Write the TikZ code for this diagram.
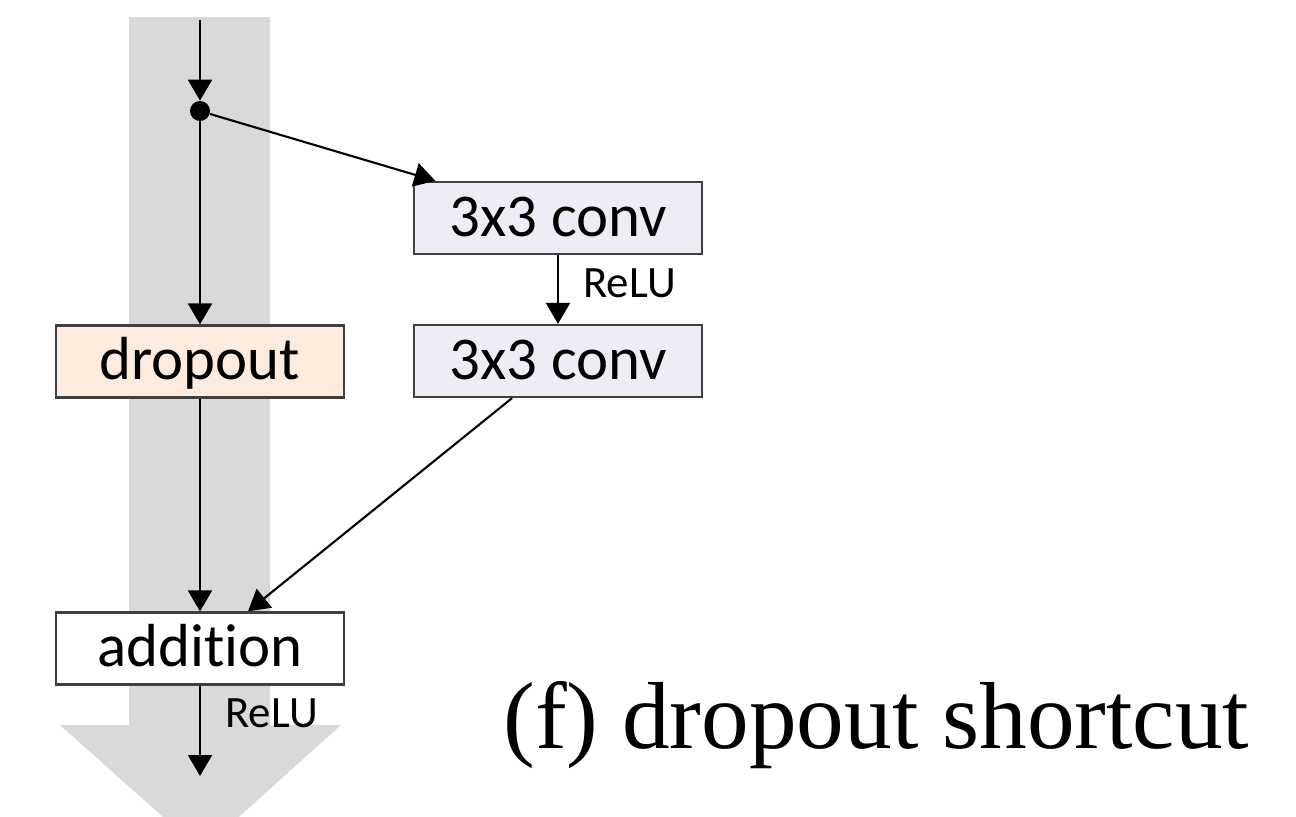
\documentclass[tikz,border=0pt]{standalone}
\usepackage{fontspec}
\setmainfont{Liberation Serif}
\newfontfamily\boxfont[Ligatures=NoCommon]{Carlito}
\usetikzlibrary{arrows.meta,calc}
\definecolor{flowgray}{HTML}{D9D9D9}
\definecolor{convfill}{HTML}{EEECF5}
\definecolor{dropfill}{HTML}{FDEBDD}
\definecolor{edgegray}{HTML}{404040}
\tikzset{
  block/.style={draw=edgegray, line width=1.3pt, minimum width=5.76cm, minimum height=1.44cm,
    inner sep=0pt, text height=0.9cm, text depth=0.18cm,
    font=\boxfont\fontsize{34.6}{40}\selectfont},
  flow/.style={line width=1.2pt, -{Triangle[length=0.42cm,width=0.48cm]}},
  relu/.style={inner sep=0pt, font=\boxfont\fontsize{25.5}{30}\selectfont},
  junction/.style={circle, fill=black, inner sep=0pt, minimum size=0.4cm},
}
\begin{document}
\begin{tikzpicture}[x=0.02cm, y=-0.02cm]
\useasboundingbox (0,0) rectangle (1296,816);
\clip (0,0) rectangle (1296,816);
% wide gray data-flow arrow behind the block
\fill[flowgray] (129,17) -- (270,17) -- (270,725) -- (341,725) -- (201,851)
  -- (60,725) -- (129,725) -- cycle;

% blocks
\node[block, fill=convfill] (conv1) at (558,218) {3x3 conv};
\node[block, fill=convfill] (conv2) at (558,361) {3x3 conv};
\node[block, fill=dropfill] (drop) at (200,361.5) {dropout};
\node[block, fill=white] (add) at (200,648.5) {addition};
\node[junction] (split) at (200,111) {};
\coordinate (in) at (200,20);
\coordinate (out) at (200,776);

% connections
\draw[flow] (in) -- (split);
\draw[flow] (split) -- (drop.north);
\draw[flow] (split) -- ([xshift=0.45cm]conv1.north west);
\draw[flow] (conv1.south) -- (conv2.north);
\draw[flow] (drop.south) -- (add.north);
\draw[flow] ([xshift=-0.92cm]conv2.south) -- ([xshift=0.96cm]add.north);
\draw[flow] (add.south) -- (out);

% activation labels
\node[relu, anchor=base west] (relu1) at (583,297) {ReLU};
\node[relu, anchor=base west] (relu2) at (225,727) {ReLU};

% caption
\node[anchor=base west, inner sep=0pt, font=\fontsize{54.2}{60}\selectfont] (caption) at (503,748) {(f) dropout shortcut};
\end{tikzpicture}
\end{document}
